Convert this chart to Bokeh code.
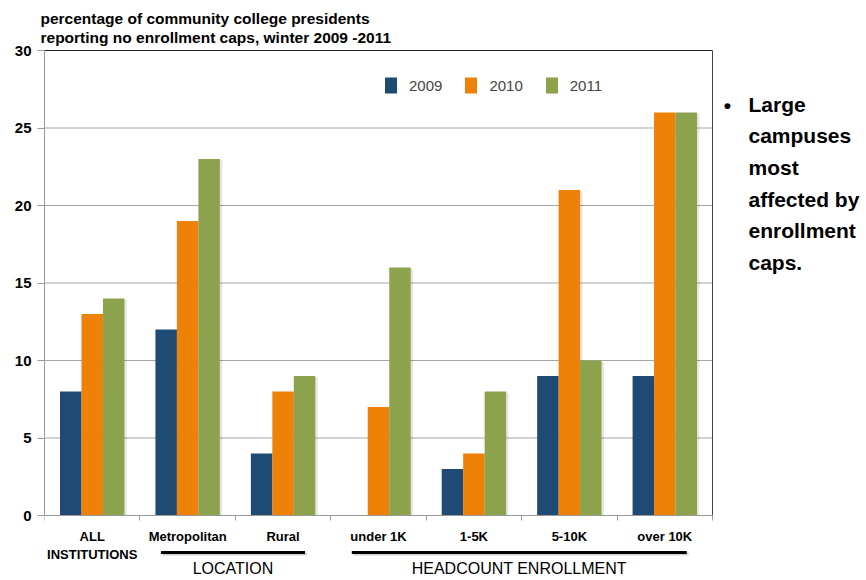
from bokeh.plotting import figure
from bokeh.models import (FixedTicker, LinearAxis, Legend, LegendItem, Range1d,
                          ColumnDataSource, Title)
from bokeh.core.properties import value
from bokeh.embed import file_html
from bokeh.resources import INLINE

categories = ["ALL\nINSTITUTIONS", "Metropolitan", "Rural", "under 1K", "1-5K", "5-10K", "over 10K"]
years = ["2009", "2010", "2011"]
v2009 = [8, 12, 4, 0, 3, 9, 9]
v2010 = [13, 19, 8, 7, 4, 21, 26]
v2011 = [14, 23, 9, 16, 8, 10, 26]
colors = ["#1F4A74", "#EE8108", "#8CA24C"]
group_names = ["LOCATION", "HEADCOUNT ENROLLMENT"]
group_first = [1, 3]
group_last = [2, 6]
y_ticks = [0, 5, 10, 15, 20, 25, 30]
title_text = "percentage of community college presidents\nreporting no enrollment caps, winter 2009 -2011"
note_lines = ["Large", "campuses", "most", "affected by", "enrollment", "caps."]

FONT = "Liberation Sans"
N = len(categories)
YMAX = 30
PX_X = 668 / N          # pixels per category
PX_Y = 465 / YMAX       # pixels per unit
FRAME_W = 822
FRAME_H = 530

p = figure(frame_width=FRAME_W, frame_height=FRAME_H,
           min_border_left=44, min_border_top=50, min_border_right=0, min_border_bottom=0,
           x_range=Range1d(0, FRAME_W / PX_X), y_range=Range1d(YMAX - FRAME_H / PX_Y, YMAX),
           output_backend="svg", toolbar_location=None)
p.outline_line_color = None
p.background_fill_color = "white"
p.xgrid.grid_line_color = None
p.ygrid.grid_line_color = None

# horizontal grid lines limited to the plotting area
gl = [t for t in y_ticks if t > 0]
p.segment(x0=[0] * len(gl), y0=gl, x1=[N] * len(gl), y1=gl, line_color="#A6A6A6", line_width=1)

idx = list(range(N))
w = 0.225
series = [v2009, v2010, v2011]
for k, vals in enumerate(series):
    sh = ColumnDataSource(dict(x=[i + 0.5 + (k - 1) * w + 0.025 for i in idx],
                               top=[v - 0.08 if v > 0 else 0 for v in vals]))
    p.vbar(x="x", top="top", width=w, source=sh, fill_color="#000000", fill_alpha=0.10,
           line_color=None)
renderers = []
for k, (vals, col) in enumerate(zip(series, colors)):
    src = ColumnDataSource(dict(x=[i + 0.5 + (k - 1) * w for i in idx], top=vals))
    r = p.vbar(x="x", top="top", width=w, source=src, fill_color=col, line_color=None)
    renderers.append(r)

# x axis placed at y=0 inside the (extended) frame
xa = p.xaxis[0]
xa.fixed_location = 0
xa.bounds = (0, N)
xa.ticker = FixedTicker(ticks=[i + 0.5 for i in idx], minor_ticks=list(range(N + 1)))
xa.major_label_overrides = {i + 0.5: c for i, c in enumerate(categories)}
xa.major_tick_line_color = None
xa.minor_tick_line_color = "#999999"
xa.minor_tick_out = 5
xa.minor_tick_in = 0
xa.axis_line_color = "#999999"
xa.major_label_text_font = FONT
xa.major_label_text_font_style = "bold"
xa.major_label_text_font_size = "13px"
xa.major_label_text_color = "black"
xa.major_label_text_line_height = 1.25
xa.major_label_standoff = 7

ya = p.yaxis[0]
ya.bounds = (0, YMAX)
ya.ticker = FixedTicker(ticks=y_ticks)
ya.minor_tick_line_color = None
ya.major_tick_out = 7
ya.major_tick_in = 0
ya.major_tick_line_color = "#999999"
ya.axis_line_color = "#999999"
ya.major_label_text_font = FONT
ya.major_label_text_font_style = "bold"
ya.major_label_text_font_size = "15px"
ya.major_label_text_color = "black"
ya.major_label_standoff = 6

# frame top border (axis above) and right border
top_ax = LinearAxis(ticker=FixedTicker(ticks=[]), bounds=(0, N),
                    major_tick_line_color=None, minor_tick_line_color=None,
                    axis_line_color="#222222")
p.add_layout(top_ax, "above")
p.segment(x0=[N], y0=[0], x1=[N], y1=[YMAX], line_color="#444444", line_width=1)

# legend
legend = Legend(items=[LegendItem(label=y, renderers=[r]) for y, r in zip(years, renderers)],
                orientation="horizontal", location=(339, FRAME_H - 45),
                glyph_width=15, glyph_height=20, label_standoff=11, spacing=21,
                padding=0, margin=0, border_line_color=None, background_fill_alpha=0,
                label_text_font=FONT, label_text_font_size="15px")
p.add_layout(legend, "center")

# title
p.title = Title(text=title_text, text_font=FONT, text_font_style="bold", text_color="black",
                text_font_size="15.5px", align="left", offset=-4, standoff=9,
                text_line_height=1.1)

# group underlines and labels below the axis
line_y = -37 / PX_Y
text_y = -53 / PX_Y
gx0 = [a + 0.5 - 0.28 for a in group_first]
gx1 = [b + 0.5 + 0.23 for b in group_last]
p.segment(x0=[x + 0.02 for x in gx0], y0=[line_y - 0.1] * 2, x1=[x + 0.02 for x in gx1],
          y1=[line_y - 0.1] * 2, line_color="#000000", line_alpha=0.18, line_width=3)
p.segment(x0=gx0, y0=[line_y] * 2, x1=gx1, y1=[line_y] * 2, line_color="black", line_width=3)
p.text(x=[(a + b) / 2 for a, b in zip(gx0, gx1)], y=[text_y] * 2, text=group_names,
       text_align="center", text_baseline="middle", text_font=value(FONT),
       text_font_size="16px", text_color="black")

# right-hand note
p.text(x=[N + 15 / PX_X], y=[YMAX - (105 - 50) / PX_Y], text=["\u2022"],
       text_align="center", text_baseline="middle", text_font=value(FONT),
       text_font_size="21px", text_font_style="bold", text_color="black")
p.text(x=[N + (748 - 712) / PX_X], y=[YMAX - (92 - 50) / PX_Y], text=["\n".join(note_lines)],
       text_align="left", text_baseline="top", text_font=value(FONT),
       text_font_size="21px", text_font_style="bold", text_color="black", text_line_height=1.38)

open("out.html", "w").write(file_html(p, INLINE))
